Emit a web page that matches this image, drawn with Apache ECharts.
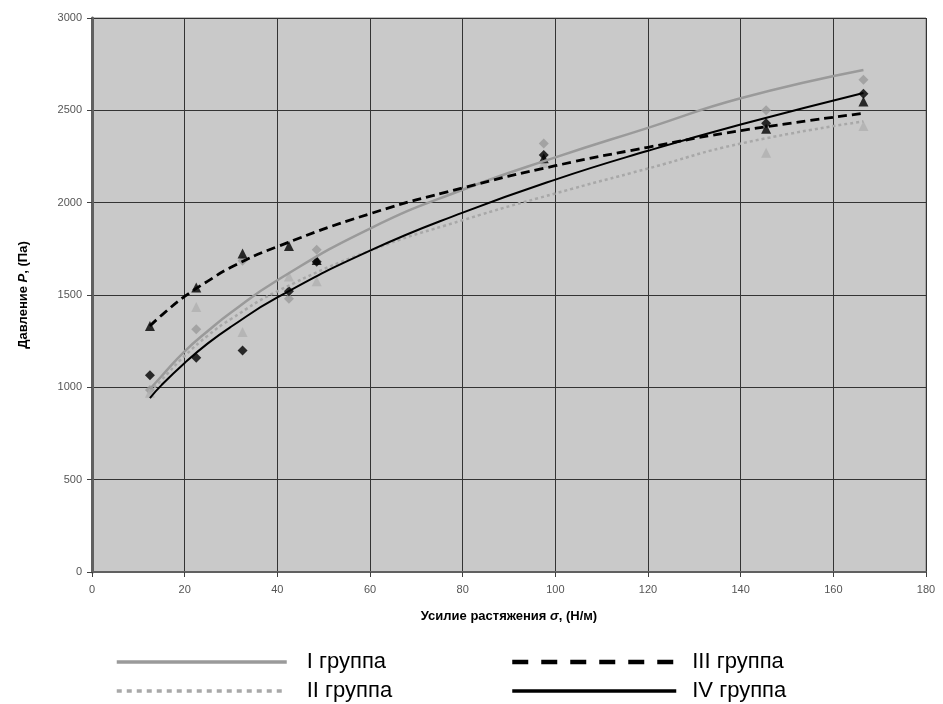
<!DOCTYPE html>
<html>
<head>
<meta charset="utf-8">
<script src="https://cdn.jsdelivr.net/npm/echarts@6/dist/echarts.min.js"></script>
<style>
  html, body { margin: 0; padding: 0; background: #fff; }
  #chart { width: 943px; height: 704px; }
</style>
</head>
<body>
<div id="chart"></div>
<script>
// Measured points: tension (N/m) and pressure (Pa) for each group
const xMeasured = [12.5, 22.5, 32.5, 42.5, 48.5, 97.5, 145.5, 166.5];
const pGroup1 = [985, 1315, 1685, 1480, 1745, 2320, 2500, 2665];
const pGroup2 = [970, 1435, 1300, 1600, 1575, 2215, 2270, 2415];
const pGroup3 = [1332, 1540, 1725, 1765, 1690, 2240, 2400, 2548];
const pGroup4 = [1065, 1160, 1200, 1520, 1680, 2258, 2430, 2590];

// Trend curves
const xTrend = [12.5, 15, 20, 25, 30, 40, 60, 80, 100, 120, 140, 166.5];
const trend1 = [990, 1060, 1195, 1305, 1405, 1580, 1860, 2070, 2245, 2405, 2565, 2718];
const trend2 = [975, 1040, 1170, 1280, 1370, 1520, 1740, 1905, 2050, 2185, 2320, 2440];
const trend3 = [1332, 1390, 1492, 1575, 1650, 1762, 1940, 2080, 2200, 2300, 2390, 2484];
const trend4 = [942, 1012, 1132, 1238, 1328, 1487, 1740, 1946, 2125, 2281, 2423, 2594];

const seriesNames = ['I группа', 'II группа', 'III группа', 'IV группа'];
const xTicks = [0, 20, 40, 60, 80, 100, 120, 140, 160, 180];
const yTicks = [0, 500, 1000, 1500, 2000, 2500, 3000];

const pair = (xs, ys) => xs.map((x, i) => [x, ys[i]]);

const chart = echarts.init(document.getElementById('chart'));

const lineStyles = [
  { color: '#9a9a9a', width: 2.5, type: 'solid' },
  { color: '#a8a8a8', width: 2.5, type: [3, 3] },
  { color: '#000000', width: 2.8, type: [9, 5] },
  { color: '#000000', width: 2, type: 'solid' }
];
const legendLineStyles = [
  { color: '#9a9a9a', width: 3.5, type: 'solid' },
  { color: '#a8a8a8', width: 3.5, type: [5, 5] },
  { color: '#000000', width: 4.5, type: [16, 13] },
  { color: '#000000', width: 3.5, type: 'solid' }
];
const trends = [trend1, trend2, trend3, trend4];
const measured = [pGroup1, pGroup2, pGroup3, pGroup4];
const markers = [
  { symbol: 'diamond', color: '#9a9a9a', size: 10 },
  { symbol: 'triangle', color: '#b0b0b0', size: 10 },
  { symbol: 'triangle', color: '#000000', size: 10 },
  { symbol: 'diamond', color: '#000000', size: 10 }
];

const series = [];
// scatter marks first so curves sit on top of them
measured.forEach((ys, i) => {
  series.push({
    name: seriesNames[i] + ' pts',
    type: 'scatter',
    data: pair(xMeasured, ys),
    symbol: markers[i].symbol,
    symbolSize: markers[i].size,
    itemStyle: { color: markers[i].color },
    z: 2 + i
  });
});
trends.forEach((ys, i) => {
  series.push({
    name: seriesNames[i],
    type: 'line',
    data: pair(xTrend, ys),
    smooth: 0.5,
    symbol: 'none',
    lineStyle: lineStyles[i],
    z: 10 + (i === 1 ? 0 : i),
    silent: true
  });
});

const fontFam = 'Liberation Sans, Arial, sans-serif';
const legendText = (gap) => ({
  fontFamily: fontFam, fontSize: 22, color: '#000',
  rich: { t: { fontFamily: fontFam, fontSize: 22, color: '#000', padding: [0, 0, 0, gap] } }
});

chart.setOption({
  animation: false,
  backgroundColor: '#fff',
  grid: {
    left: 92, right: 17, top: 18, bottom: 132,
    show: true,
    backgroundColor: '#c9c9c9',
    borderColor: '#808080',
    borderWidth: 1
  },
  legend: [
    {
      data: [
        { name: seriesNames[0], itemStyle: { opacity: 0 }, lineStyle: legendLineStyles[0] },
        { name: seriesNames[1], itemStyle: { opacity: 0 }, lineStyle: legendLineStyles[1] }
      ],
      orient: 'vertical', left: 115, top: 651, height: 120, padding: 0,
      itemWidth: 170, itemHeight: 12, itemGap: 7,
      formatter: n => '{t|' + n + '}',
      textStyle: legendText(15), selectedMode: false
    },
    {
      data: [
        { name: seriesNames[2], itemStyle: { opacity: 0 }, lineStyle: legendLineStyles[2] },
        { name: seriesNames[3], itemStyle: { opacity: 0 }, lineStyle: legendLineStyles[3] }
      ],
      orient: 'vertical', left: 510, top: 651, height: 120, padding: 0,
      itemWidth: 164, itemHeight: 12, itemGap: 7,
      formatter: n => '{t|' + n + '}',
      textStyle: legendText(11), selectedMode: false
    }
  ],
  xAxis: {
    type: 'value', min: 0, max: 180, interval: 20,
    name: '{b|Усилие растяжения }{bi|σ}{b|, (Н/м)}',
    nameLocation: 'middle', nameGap: 38,
    nameTextStyle: {
      rich: {
        b: { fontFamily: fontFam, fontSize: 13, fontWeight: 'bold', color: '#000' },
        bi: { fontFamily: fontFam, fontSize: 13, fontWeight: 'bold', fontStyle: 'italic', color: '#000' }
      }
    },
    axisLine: { show: true, onZero: false, lineStyle: { color: '#606060', width: 2 } },
    axisTick: { show: true, length: 5, lineStyle: { color: '#404040' } },
    axisLabel: {
      color: '#555', fontSize: 11, fontFamily: fontFam, margin: 12,
      formatter: v => xTicks.includes(v) ? String(v) : ''
    },
    splitLine: { show: true, lineStyle: { color: '#333', width: 1 } }
  },
  yAxis: {
    type: 'value', min: 0, max: 3000, interval: 500,
    name: '{b|Давление }{bi|P}{b|, (Па)}',
    nameLocation: 'middle', nameGap: 62, nameRotate: 90,
    nameTextStyle: {
      rich: {
        b: { fontFamily: fontFam, fontSize: 13, fontWeight: 'bold', color: '#000' },
        bi: { fontFamily: fontFam, fontSize: 13, fontWeight: 'bold', fontStyle: 'italic', color: '#000' }
      }
    },
    axisLine: { show: true, onZero: false, lineStyle: { color: '#606060', width: 3 } },
    axisTick: { show: true, length: 5, lineStyle: { color: '#404040' } },
    axisLabel: {
      color: '#555', fontSize: 11, fontFamily: fontFam, margin: 10,
      formatter: v => yTicks.includes(v) ? String(v) : ''
    },
    splitLine: { show: true, lineStyle: { color: '#333', width: 1 } }
  },
  series: series
});
</script>
</body>
</html>
